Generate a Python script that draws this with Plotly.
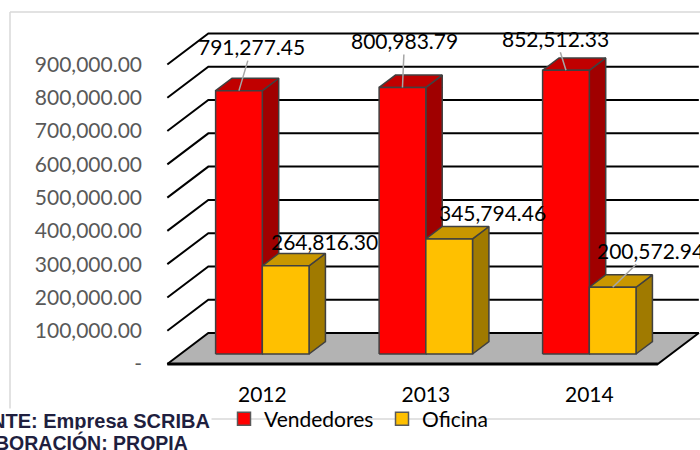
import plotly.graph_objects as go

# ── data ──
YEARS = ["2012", "2013", "2014"]
VENDEDORES = [791277.45, 800983.79, 852512.33]
OFICINA = [264816.30, 345794.46, 200572.94]
Y_TICKS = [0, 100000, 200000, 300000, 400000, 500000, 600000, 700000, 800000, 900000]

# ── look ──
FONT = "Lato, Carlito, Calibri, sans-serif"
GRID = "#000000"
EDGE = "#404040"
SERIES = [
    # name, values, offset (in bar widths), front, top, side
    ("Vendedores", VENDEDORES, -1, "#FF0000", "#C00000", "#A00000"),
    ("Oficina", OFICINA, 0, "#FFC000", "#C99700", "#A07A00"),
]

W, H = 700, 450
M_L, M_B = 150, 72
PW, PH = W - M_L, H - M_B

X_RANGE = [-0.687, 2.677]
Y_RANGE = [-72115, 1063702]

# fake 3d: depth vector of the whole floor, in data units
DX, DY = 0.2508, 93150
FRONT, BACK = -0.323, 0.677   # floor front edge / back wall, relative to bar front
BAR_DEPTH = 0.40
BAR_W = 0.2857


def px_x(px):
    return (px - M_L) / PW


def px_y(py):
    return (PH - py) / PH


def poly(xs, ys, fill, line_color=EDGE, width=1.5):
    return go.Scatter(
        x=xs, y=ys, mode="lines", fill="toself", fillcolor=fill,
        line=dict(color=line_color, width=width),
        showlegend=False, hoverinfo="skip",
    )


fig = go.Figure()

# floor
fx, fy = FRONT * DX, FRONT * DY
bx, by = BACK * DX, BACK * DY
x_lo, x_hi = -0.5, len(YEARS) - 0.5
fig.add_trace(poly(
    [x_lo + fx, x_hi + fx, x_hi + bx, x_lo + bx, x_lo + fx],
    [fy, fy, by, by, fy],
    "#B3B3B3", "#000000", 2,
))
fig.add_trace(go.Scatter(
    x=[x_lo + fx, x_hi + fx], y=[fy, fy], mode="lines",
    line=dict(color="#000000", width=3), showlegend=False, hoverinfo="skip",
))

# side wall + back wall gridlines
gx, gy = [], []
for v in Y_TICKS[1:]:
    gx += [x_lo + fx, x_lo + bx, x_hi + bx, None]
    gy += [v + fy, v + by, v + by, None]
fig.add_trace(go.Scatter(
    x=gx, y=gy, mode="lines", line=dict(color=GRID, width=2),
    showlegend=False, hoverinfo="skip",
))

# bars: side, top, front faces
ddx, ddy = BAR_DEPTH * DX, BAR_DEPTH * DY
for name, values, off, c_front, c_top, c_side in SERIES:
    side_x, side_y, top_x, top_y, fr_x, fr_y = [], [], [], [], [], []
    for i, v in enumerate(values):
        x0 = i + off * BAR_W
        x1 = x0 + BAR_W
        side_x += [x1, x1 + ddx, x1 + ddx, x1, x1, None]
        side_y += [0, ddy, v + ddy, v, 0, None]
        top_x += [x0, x1, x1 + ddx, x0 + ddx, x0, None]
        top_y += [v, v, v + ddy, v + ddy, v, None]
        fr_x += [x0, x1, x1, x0, x0, None]
        fr_y += [0, 0, v, v, 0, None]
    fig.add_trace(poly(side_x, side_y, c_side))
    fig.add_trace(poly(top_x, top_y, c_top))
    fig.add_trace(poly(fr_x, fr_y, c_front))

# legend entries
for name, values, off, c_front, c_top, c_side in SERIES:
    fig.add_trace(go.Scatter(
        x=[None], y=[None], mode="markers", name=name,
        marker=dict(symbol="square", size=13, color=c_front,
                    line=dict(color="#595959", width=1.5)),
    ))

# data labels (label offsets in px, arrow = leader line)
LABEL_POS = {
    ("Vendedores", 0): (13, -44, True),
    ("Vendedores", 1): (2, -47, True),
    ("Vendedores", 2): (-10, -32, True),
    ("Oficina", 0): (39, -24, False),
    ("Oficina", 1): (43, -26, False),
    ("Oficina", 2): (38, -37, True),
}
annotations = []
for name, values, off, *_ in SERIES:
    for i, v in enumerate(values):
        ax, ay, arrow = LABEL_POS[(name, i)]
        a = dict(
            x=i + off * BAR_W + BAR_W / 2, y=v, xref="x", yref="y",
            text=f"{v:,.2f}", font=dict(family=FONT, size=21, color="#000000"),
        )
        if arrow:
            a.update(showarrow=True, ax=ax, ay=ay, arrowhead=0,
                     arrowcolor="#A6A6A6", arrowwidth=1.5)
        else:
            a.update(showarrow=False, xshift=ax, yshift=-ay)
        annotations.append(a)

# source notes below the chart
NOTE = dict(family="Liberation Sans, Arial, sans-serif", color="#1F1F3F")
annotations += [
    dict(x=px_x(212), y=px_y(421), xref="paper", yref="paper",
         xanchor="right", yanchor="middle", showarrow=False,
         text="<b>FUENTE: Empresa SCRIBA</b>", bgcolor="#FFFFFF",
         font=dict(NOTE, size=20)),
    dict(x=px_x(190), y=px_y(442), xref="paper", yref="paper",
         xanchor="right", yanchor="middle", showarrow=False,
         text="<b>ELABORACIÓN: PROPIA</b>", bgcolor="#FFFFFF",
         font=dict(NOTE, size=19.5)),
]

# chart area border (left, top, bottom)
BORDER = dict(color="#D9D9D9", width=1.5)
shapes = [
    dict(type="line", xref="paper", yref="paper", layer="below",
         x0=px_x(10), x1=px_x(10), y0=px_y(12), y1=px_y(419), line=BORDER),
    dict(type="line", xref="paper", yref="paper", layer="below",
         x0=px_x(10), x1=px_x(705), y0=px_y(12), y1=px_y(12), line=BORDER),
    dict(type="line", xref="paper", yref="paper", layer="below",
         x0=px_x(10), x1=px_x(705), y0=px_y(419), y1=px_y(419), line=BORDER),
]

fig.update_layout(
    width=W, height=H,
    margin=dict(l=M_L, r=0, t=0, b=M_B),
    paper_bgcolor="#FFFFFF", plot_bgcolor="#FFFFFF",
    font=dict(family=FONT, color="#000000"),
    xaxis=dict(
        range=X_RANGE, showgrid=False, zeroline=False, showline=False,
        tickvals=list(range(len(YEARS))), ticktext=YEARS, ticks="",
        tickfont=dict(family=FONT, size=21, color="#000000"),
        ticklabelstandoff=2,
    ),
    yaxis=dict(
        range=Y_RANGE, showgrid=False, zeroline=False, showline=False,
        tickvals=[v + fy for v in Y_TICKS],
        ticktext=[f"{v:,.2f}" if v else "-" for v in Y_TICKS], ticks="",
        tickfont=dict(family=FONT, size=21, color="#595959"),
        ticklabelstandoff=7,
    ),
    legend=dict(
        orientation="h", x=px_x(224), y=px_y(419), xanchor="left", yanchor="middle",
        bgcolor="rgba(0,0,0,0)", font=dict(family=FONT, size=21, color="#000000"),
        itemwidth=30, entrywidth=113, entrywidthmode="pixels",
    ),
    annotations=annotations,
    shapes=shapes,
    showlegend=True,
)

fig.write_html(
    "out.html",
    config={"displayModeBar": False},
    post_script="document.body.style.margin = '0';",
)
